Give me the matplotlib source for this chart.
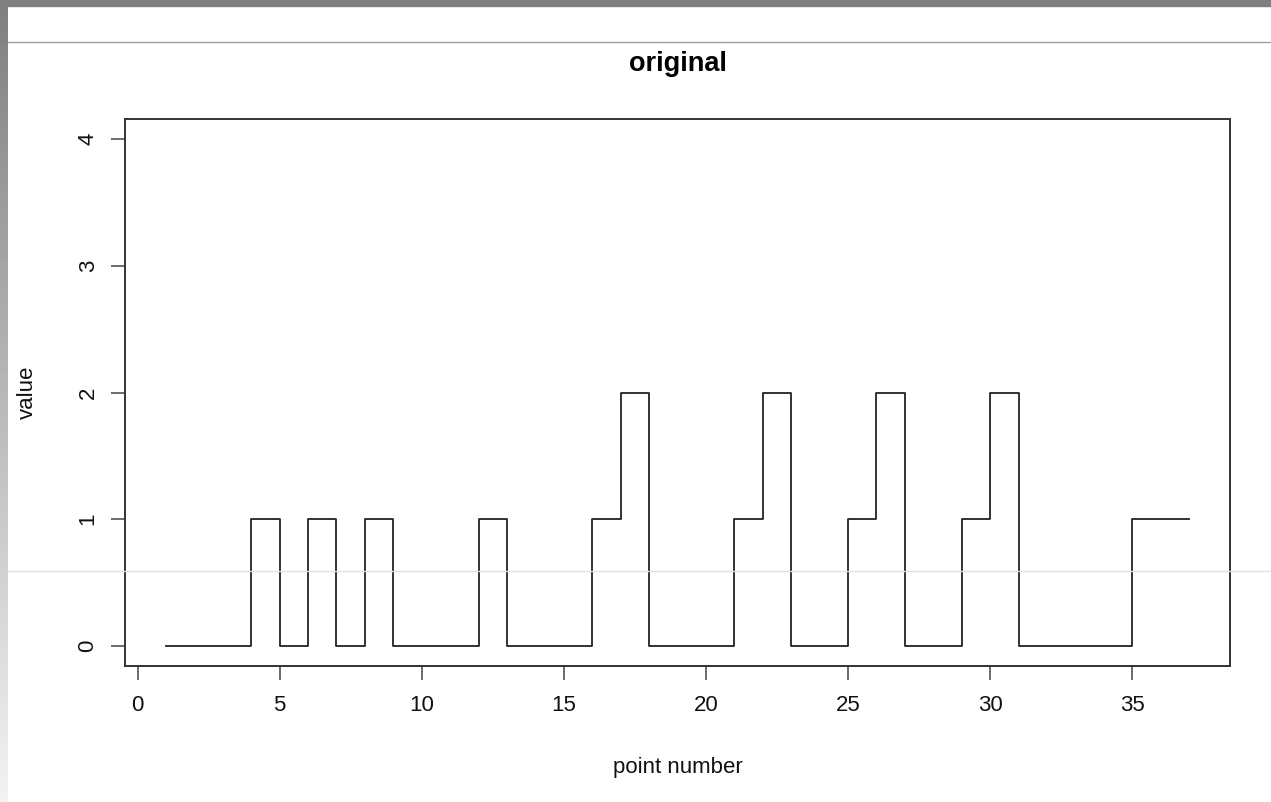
import numpy as np
import matplotlib
matplotlib.use("Agg")
import matplotlib.pyplot as plt
from matplotlib.lines import Line2D
from matplotlib.patches import Rectangle

# values, one per point
point_number = list(range(1, 38))
values = [0, 0, 0, 1, 0, 1, 0, 1, 0, 0,
          0, 1, 0, 0, 0, 1, 2, 0, 0, 0,
          1, 2, 0, 0, 1, 2, 0, 0, 1, 2,
          0, 0, 0, 0, 1, 1, 1]
x_ticks = [0, 5, 10, 15, 20, 25, 30, 35]
y_ticks = [0, 1, 2, 3, 4]

plt.rcParams['font.family'] = ['Liberation Sans', 'DejaVu Sans']

W, H = 1271, 802
fig = plt.figure(figsize=(W / 100, H / 100), dpi=100)

# screenshot frame: grey strip on top, gradient on the left, thin rules
fig.patches.append(Rectangle((0, 1 - 6 / H), 1, 6 / H, transform=fig.transFigure,
                             color='#7f7f7f', zorder=0))
grad = np.linspace(0.50, 0.95, 256).reshape(-1, 1)
strip = fig.add_axes([0, 0, 8 / W, 1 - 6 / H])
strip.imshow(grad, cmap='gray', vmin=0, vmax=1, aspect='auto', origin='upper')
strip.axis('off')
fig.add_artist(Line2D([8 / W, 1], [1 - 42 / H, 1 - 42 / H], transform=fig.transFigure,
                      color='#a0a0a0', lw=1))
fig.add_artist(Line2D([8 / W, 1], [1 - 571 / H, 1 - 571 / H], transform=fig.transFigure,
                      color='#e2e2e2', lw=1, zorder=10))

left, right, top, bottom = 125, 1230, 119, 666
ax = fig.add_axes([left / W, 1 - bottom / H, (right - left) / W, (bottom - top) / H])

ax.step(point_number, values, where='post', color='#222222', lw=1.3)

# R style limits: data range padded by 4%
xr = point_number[-1] - point_number[0]
ax.set_xlim(point_number[0] - 0.04 * xr, point_number[-1] + 0.04 * xr)
ax.set_ylim(-0.16, 4.16)
ax.set_xticks(x_ticks)
ax.set_yticks(y_ticks)

for s in ax.spines.values():
    s.set_linewidth(1.4)
    s.set_color('#333333')
ax.tick_params(direction='out', length=10, width=1.1, color='#444444',
               labelsize=16, labelcolor='#111111')
ax.tick_params(axis='x', pad=11)
ax.tick_params(axis='y', pad=9)
for lab in ax.get_yticklabels():
    lab.set_rotation(90)
    lab.set_va('center')

ax.set_xlabel('point number', fontsize=16, color='#111111')
ax.set_ylabel('value', fontsize=16, color='#111111')
ax.xaxis.set_label_coords(0.5, (bottom - 767) / (bottom - top))
ax.yaxis.set_label_coords((27 - left) / (right - left), 0.5)
ax.xaxis.label.set_va('center')
ax.yaxis.label.set_va('center')

fig.text((left + right) / 2 / W, 1 - 64 / H, 'original', ha='center', va='center',
         fontsize=19.5, fontweight='bold')

fig.savefig('out.png', dpi=100)
